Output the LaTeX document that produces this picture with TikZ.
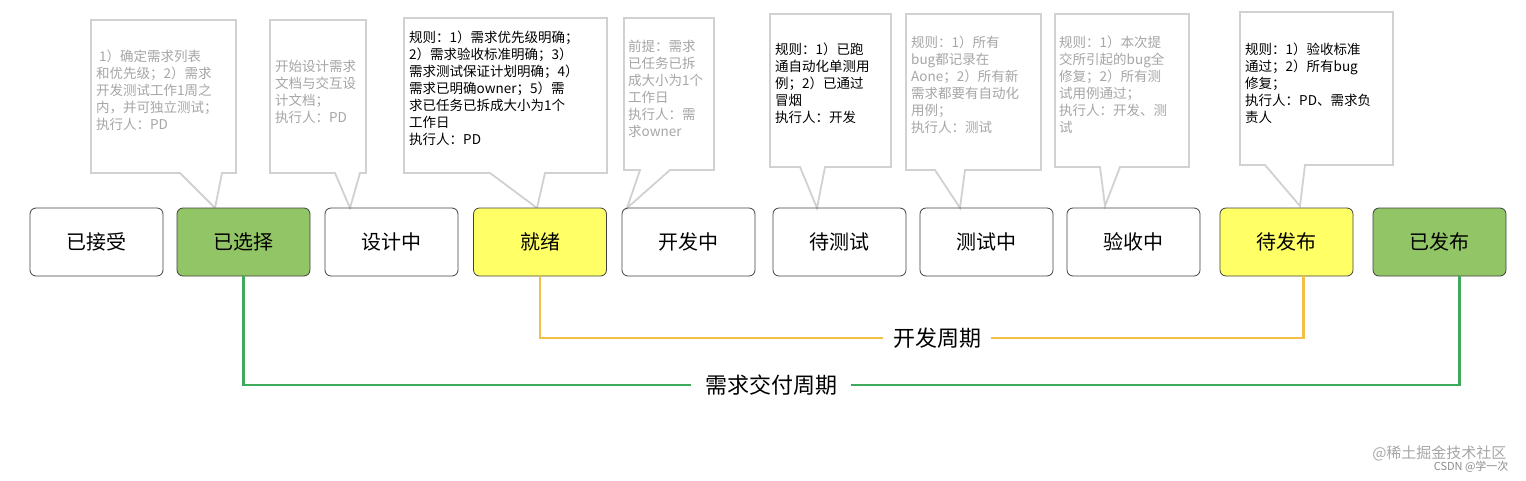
\documentclass[tikz,border=0pt]{standalone}
\usepackage{fontspec}
\setmainfont{Noto Sans CJK SC}
\begin{document}
\begin{tikzpicture}[x=1pt,y=-1pt,
  stage/.style={draw=black!75,rounded corners=6pt,minimum width=133pt,minimum height=68pt,font=\fontsize{20}{24}\selectfont,line width=0.8pt},
  callout/.style={draw=black!18,fill=white,line width=1.8pt,line join=miter},
  ctext/.style={anchor=north west,align=left,font=\fontsize{13.5}{17}\selectfont,inner sep=0pt},
  lt/.style={text=black!35},
  dk/.style={text=black}]
\useasboundingbox (0,0) rectangle (1526,480);
\definecolor{gfill}{HTML}{92C565}
\definecolor{yfill}{HTML}{FFFF66}
\definecolor{yline}{HTML}{F2C04A}
\definecolor{gline}{HTML}{3DAA5C}
% callouts
\draw[callout] (91,20) -- (236,20) -- (236,173) -- (222,173) -- (215,208) -- (180,173) -- (91,173) -- cycle;
\draw[callout] (270,20) -- (366,20) -- (366,173) -- (360,173) -- (350,208) -- (335,173) -- (270,173) -- cycle;
\draw[callout] (404,18) -- (607,18) -- (607,173) -- (545,173) -- (537,208) -- (490,173) -- (404,173) -- cycle;
\draw[callout] (624,18) -- (714,18) -- (714,170) -- (670,170) -- (627,208) -- (640,170) -- (624,170) -- cycle;
\draw[callout] (770,14) -- (891,14) -- (891,167) -- (825,167) -- (817,208) -- (800,167) -- (770,167) -- cycle;
\draw[callout] (906,14) -- (1041,14) -- (1041,170) -- (965,170) -- (960,208) -- (935,170) -- (906,170) -- cycle;
\draw[callout] (1055,14) -- (1189,14) -- (1189,167) -- (1120,167) -- (1105,206) -- (1100,167) -- (1055,167) -- cycle;
\draw[callout] (1240,12) -- (1393,12) -- (1393,165) -- (1305,165) -- (1300,206) -- (1265,165) -- (1240,165) -- cycle;
\node[ctext,lt] (t1) at (96,50) {\ 1）确定需求列表\\和优先级；2）需求\\开发测试工作1周之\\内，并可独立测试；\\执行人：PD};
\node[ctext,lt] (t2) at (275,60) {开始设计需求\\文档与交互设\\计文档；\\执行人：PD};
\node[ctext,dk] (t3) at (409,31) {规则：1）需求优先级明确；\\2）需求验收标准明确；3）\\需求测试保证计划明确；4）\\需求已明确owner；5）需\\求已任务已拆成大小为1个\\工作日\\执行人：PD};
\node[ctext,lt] (t4) at (628,40) {前提：需求\\已任务已拆\\成大小为1个\\工作日\\执行人：需\\求owner};
\node[ctext,dk] (t5) at (775,43) {规则：1）已跑\\通自动化单测用\\例；2）已通过\\冒烟\\执行人：开发};
\node[ctext,lt] (t6) at (911,36) {规则：1）所有\\bug都记录在\\Aone；2）所有新\\需求都要有自动化\\用例；\\执行人：测试};
\node[ctext,lt] (t7) at (1059,36) {规则：1）本次提\\交所引起的bug全\\修复；2）所有测\\试用例通过；\\执行人：开发、测\\试};
\node[ctext,dk] (t8) at (1245,43) {规则：1）验收标准\\通过；2）所有bug\\修复；\\执行人：PD、需求负\\责人};
% stages
\node[stage] (s1) at (96.5,242) {已接受};
\node[stage,fill=gfill] (s2) at (243.5,242) {已选择};
\node[stage] (s3) at (391.5,242) {设计中};
\node[stage,fill=yfill] (s4) at (540,242) {就绪};
\node[stage] (s5) at (688.5,242) {开发中};
\node[stage] (s6) at (839.5,242) {待测试};
\node[stage] (s7) at (986.5,242) {测试中};
\node[stage] (s8) at (1133.5,242) {验收中};
\node[stage,fill=yfill] (s9) at (1286.5,242) {待发布};
\node[stage,fill=gfill] (s10) at (1439.5,242) {已发布};
% periods
\node[font=\fontsize{22}{26}\selectfont,inner xsep=10pt,inner ysep=2pt] (p1) at (937,338) {开发周期};
\node[font=\fontsize{22}{26}\selectfont,inner xsep=14pt,inner ysep=2pt] (p2) at (771,385) {需求交付周期};
\draw[yline,line width=2.5pt] (p1.west) -- (s4.south |- p1.west) -- (s4.south);
\draw[yline,line width=2.5pt] (p1.east) -- ([xshift=17pt]s9.south |- p1.east) -- ([xshift=17pt]s9.south);
\draw[gline,line width=2.5pt] (p2.west) -- (s2.south |- p2.west) -- (s2.south);
\draw[gline,line width=2.5pt] (p2.east) -- ([xshift=20pt]s10.south |- p2.east) -- ([xshift=20pt]s10.south);
% watermark
\node[text=black!35,font=\fontsize{15}{18}\selectfont,anchor=east] (w1) at (1510,453) {@稀土掘金技术社区};
\node[text=black!45,font=\fontsize{11}{13}\selectfont,anchor=east] (w2) at (1512,467) {CSDN @学一次};
\end{tikzpicture}
\end{document}
